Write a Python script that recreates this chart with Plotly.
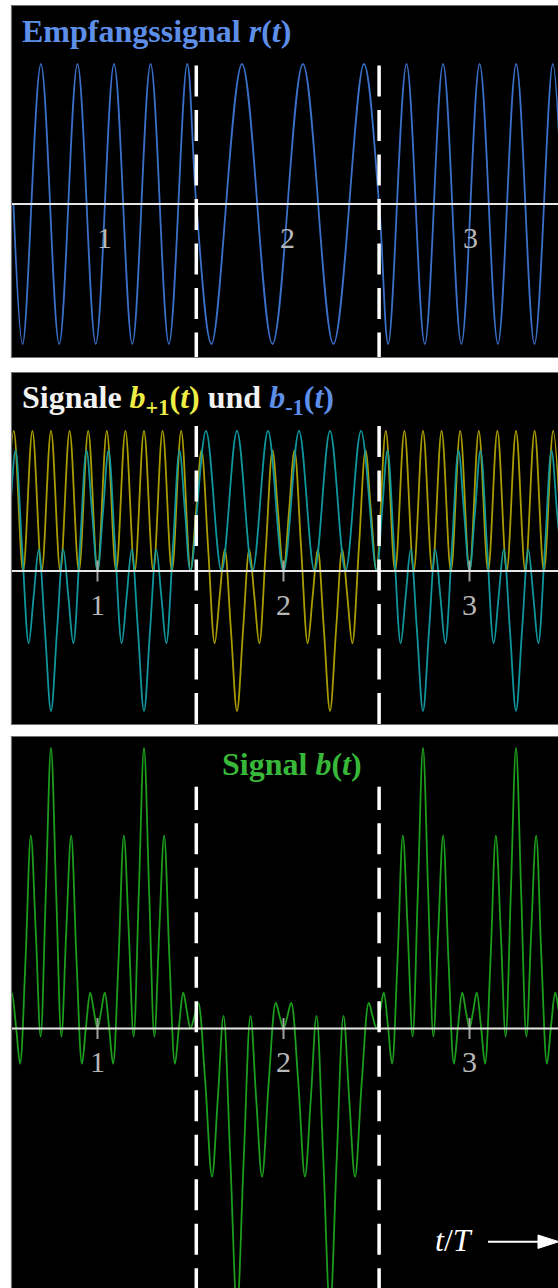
import plotly.graph_objects as go

W, H = 558, 1288

# ---------------- data (t/T and normalised amplitude) -------------
SYMBOL_BOUNDS = [1.5, 2.5]          # dashed symbol boundaries (t/T of the top panel)
TICK_POS = [1, 2, 3]
TICK_TEXT = ["1", "2", "3"]

# r(t): extrema / zero points
R_T = [0.5, 0.55, 0.65, 0.75, 0.85, 0.95, 1.05, 1.15, 1.25, 1.35, 1.45, 1.5,
       1.5833, 1.75, 1.9167, 2.0833, 2.25, 2.4167, 2.5,
       2.55, 2.65, 2.75, 2.85, 2.95, 3.05, 3.15, 3.25, 3.35, 3.45, 3.5]
R_V = [0, -1, 1, -1, 1, -1, 1, -1, 1, -1, 1, 0,
       -1, 1, -1, 1, -1, 1, 0,
       -1, 1, -1, 1, -1, 1, -1, 1, -1, 1, 0]

# b_{+1}(t)
BP_T = [0.5, 0.55, 0.6, 0.65, 0.7, 0.75, 0.8, 0.85, 0.9, 0.95, 1.0,
        1.05, 1.1, 1.15, 1.2, 1.25, 1.3, 1.35, 1.4, 1.45, 1.5,
        1.5296, 1.5591, 1.5946, 1.63, 1.657, 1.684, 1.717, 1.75, 1.783, 1.816, 1.843,
        1.87, 1.9054, 1.9409, 1.9704, 2.0,
        2.0296, 2.0591, 2.0946, 2.13, 2.157, 2.184, 2.217, 2.25, 2.283, 2.316, 2.343,
        2.37, 2.4054, 2.4409, 2.4704, 2.5,
        2.55, 2.6, 2.65, 2.7, 2.75, 2.8, 2.85, 2.9, 2.95, 3.0,
        3.05, 3.1, 3.15, 3.2, 3.25, 3.3, 3.35, 3.4, 3.45, 3.5]
BP_V = [0, 1, 0, 1, 0, 1, 0, 1, 0, 1, 0,
        1, 0, 1, 0, 1, 0, 1, 0, 1, 0,
        0.423, 0.861, 0.167, -0.516, -0.177, 0.155, -0.414, -1.0, -0.414, 0.155, -0.177,
        -0.516, 0.167, 0.861, 0.423, 0,
        0.423, 0.861, 0.167, -0.516, -0.177, 0.155, -0.414, -1.0, -0.414, 0.155, -0.177,
        -0.516, 0.167, 0.861, 0.423, 0,
        1, 0, 1, 0, 1, 0, 1, 0, 1, 0,
        1, 0, 1, 0, 1, 0, 1, 0, 1, 0]

# b_{-1}(t)
BM_T = [0.5, 0.5296, 0.5591, 0.5946, 0.63, 0.657, 0.684, 0.717, 0.75, 0.783, 0.816, 0.843,
        0.87, 0.9054, 0.9409, 0.9704, 1.0,
        1.0296, 1.0591, 1.0946, 1.13, 1.157, 1.184, 1.217, 1.25, 1.283, 1.316, 1.343,
        1.37, 1.4054, 1.4409, 1.4704, 1.5,
        1.5833, 1.6667, 1.75, 1.8333, 1.9167, 2.0, 2.0833, 2.1667, 2.25, 2.3333, 2.4167, 2.5,
        2.5296, 2.5591, 2.5946, 2.63, 2.657, 2.684, 2.717, 2.75, 2.783, 2.816, 2.843,
        2.87, 2.9054, 2.9409, 2.9704, 3.0,
        3.0296, 3.0591, 3.0946, 3.13, 3.157, 3.184, 3.217, 3.25, 3.283, 3.316, 3.343,
        3.37, 3.4054, 3.4409, 3.4704, 3.5]
BM_V = [0, 0.423, 0.861, 0.167, -0.516, -0.177, 0.155, -0.414, -1.0, -0.414, 0.155, -0.177,
        -0.516, 0.167, 0.861, 0.423, 0,
        0.423, 0.861, 0.167, -0.516, -0.177, 0.155, -0.414, -1.0, -0.414, 0.155, -0.177,
        -0.516, 0.167, 0.861, 0.423, 0,
        1, 0, 1, 0, 1, 0, 1, 0, 1, 0, 1, 0,
        0.423, 0.861, 0.167, -0.516, -0.177, 0.155, -0.414, -1.0, -0.414, 0.155, -0.177,
        -0.516, 0.167, 0.861, 0.423, 0,
        0.423, 0.861, 0.167, -0.516, -0.177, 0.155, -0.414, -1.0, -0.414, 0.155, -0.177,
        -0.516, 0.167, 0.861, 0.423, 0]

# b(t)
B_T = [0.5, 0.5195, 0.539, 0.5613, 0.5836, 0.6126, 0.6416, 0.6679, 0.6942, 0.7221, 0.75,
       0.7779, 0.8058, 0.8321, 0.8584, 0.8874, 0.9164, 0.9387, 0.961, 0.9805, 1.0,
       1.0195, 1.039, 1.0613, 1.0836, 1.1126, 1.1416, 1.1679, 1.1942, 1.2221, 1.25,
       1.2779, 1.3058, 1.3321, 1.3584, 1.3874, 1.4164, 1.4387, 1.461, 1.4805, 1.5,
       1.5207, 1.5414, 1.5784, 1.6154, 1.6465, 1.6775, 1.7138, 1.75,
       1.7862, 1.8225, 1.8535, 1.8846, 1.9216, 1.9586, 1.9793, 2.0,
       2.0207, 2.0414, 2.0784, 2.1154, 2.1465, 2.1775, 2.2138, 2.25,
       2.2862, 2.3225, 2.3535, 2.3846, 2.4216, 2.4586, 2.4793, 2.5,
       2.5195, 2.539, 2.5613, 2.5836, 2.6126, 2.6416, 2.6679, 2.6942, 2.7221, 2.75,
       2.7779, 2.8058, 2.8321, 2.8584, 2.8874, 2.9164, 2.9387, 2.961, 2.9805, 3.0,
       3.0195, 3.039, 3.0613, 3.0836, 3.1126, 3.1416, 3.1679, 3.1942, 3.2221, 3.25,
       3.2779, 3.3058, 3.3321, 3.3584, 3.3874, 3.4164, 3.4387, 3.461, 3.4805, 3.5]
B_V = [0, 0.124, 0.255, 0.022, -0.25, 0.477, 1.375, 0.696, -0.057, 0.9625, 2.0,
       0.9625, -0.057, 0.696, 1.375, 0.477, -0.25, 0.022, 0.255, 0.124, 0,
       0.124, 0.255, 0.022, -0.25, 0.477, 1.375, 0.696, -0.057, 0.9625, 2.0,
       0.9625, -0.057, 0.696, 1.375, 0.477, -0.25, 0.022, 0.255, 0.124, 0,
       0.086, 0.183, -0.364, -1.056, -0.507, 0.09, -0.929, -2.0,
       -0.929, 0.09, -0.507, -1.056, -0.364, 0.183, 0.086, 0,
       0.086, 0.183, -0.364, -1.056, -0.507, 0.09, -0.929, -2.0,
       -0.929, 0.09, -0.507, -1.056, -0.364, 0.183, 0.086, 0,
       0.124, 0.255, 0.022, -0.25, 0.477, 1.375, 0.696, -0.057, 0.9625, 2.0,
       0.9625, -0.057, 0.696, 1.375, 0.477, -0.25, 0.022, 0.255, 0.124, 0,
       0.124, 0.255, 0.022, -0.25, 0.477, 1.375, 0.696, -0.057, 0.9625, 2.0,
       0.9625, -0.057, 0.696, 1.375, 0.477, -0.25, 0.022, 0.255, 0.124, 0]

# ---------------- styling ----------------
BLUE_LINE = "#3a70c8"
YELLOW_LINE = "#a99c00"
CYAN_LINE = "#119ea6"
GREEN_LINE = "#1c9e1c"
BLUE_TXT = "#5d8fe8"
YELLOW_TXT = "#eded45"
GREEN_TXT = "#38b838"
WHITE_TXT = "#f2f2f2"
GRAY_TXT = "#b8b8b8"
SERIF = "Liberation Serif, Times New Roman, serif"

# panel pixel boxes (top, bottom) and axis ranges
PANELS = [(6, 357), (373, 724), (737, 1288)]
LEFT = 12
X_RANGES = [[0.4918, 3.4787], [0.5403, 3.4758], [0.5403, 3.4758]]
Y_RANGES = [[-153 / 140, 198 / 140], [-153 / 140, 198 / 140], [-259 / 140, 291 / 140]]


def py(p):
    return 1 - p / H


def px(p):
    return p / W


fig = go.Figure()

fig.add_trace(go.Scatter(x=R_T, y=R_V, mode="lines", line=dict(color=BLUE_LINE, width=1.8, shape="spline"),
                         xaxis="x", yaxis="y", showlegend=False, hoverinfo="skip"))
fig.add_trace(go.Scatter(x=BP_T, y=BP_V, mode="lines", line=dict(color=YELLOW_LINE, width=1.8, shape="spline"),
                         xaxis="x2", yaxis="y2", showlegend=False, hoverinfo="skip"))
fig.add_trace(go.Scatter(x=BM_T, y=BM_V, mode="lines", line=dict(color=CYAN_LINE, width=1.8, shape="spline"),
                         xaxis="x2", yaxis="y2", showlegend=False, hoverinfo="skip", opacity=0.95))
fig.add_trace(go.Scatter(x=B_T, y=B_V, mode="lines", line=dict(color=GREEN_LINE, width=1.8, shape="spline"),
                         xaxis="x3", yaxis="y3", showlegend=False, hoverinfo="skip"))

# small tick marks on the zero line (panels 2 and 3)
for xa, ya in [("x2", "y2"), ("x3", "y3")]:
    fig.add_trace(go.Scatter(x=TICK_POS, y=[0] * len(TICK_POS), mode="markers",
                             marker=dict(symbol="line-ns", size=15, line=dict(color="#a0a0a0", width=2)),
                             xaxis=xa, yaxis=ya, showlegend=False, hoverinfo="skip"))

layout = dict(width=W, height=H, margin=dict(l=0, r=0, t=0, b=0),
              paper_bgcolor="white", plot_bgcolor="black", showlegend=False)
axis_common = dict(showgrid=False, zeroline=False, showticklabels=False, showline=False, ticks="",
                   fixedrange=True)
shapes = []
annotations = []
for i, (top, bot) in enumerate(PANELS):
    sfx = "" if i == 0 else str(i + 1)
    layout["xaxis" + sfx] = dict(domain=[LEFT / W, 1], range=X_RANGES[i], anchor="y" + sfx, **axis_common)
    layout["yaxis" + sfx] = dict(domain=[max(0, py(bot)), py(top)], range=Y_RANGES[i], anchor="x" + sfx,
                                 **axis_common)
    # border
    shapes.append(dict(type="rect", xref="paper", yref="paper", x0=px(LEFT - 0.5), x1=1.02,
                       y0=py(bot + 0.5), y1=py(top - 0.5), line=dict(color="#707070", width=1.2),
                       layer="above"))
    # zero line
    shapes.append(dict(type="line", xref="x" + sfx + " domain", yref="y" + sfx, x0=0, x1=1, y0=0, y1=0,
                       line=dict(color="#e6e6e6", width=2), layer="above"))
    # tick labels
    for xv, tt in zip(TICK_POS, TICK_TEXT):
        annotations.append(dict(x=xv, y=0, xref="x" + sfx, yref="y" + sfx, text=tt, showarrow=False,
                                yshift=-33, xanchor="center", yanchor="middle",
                                font=dict(family=SERIF, size=30, color=GRAY_TXT)))

# dashed symbol boundaries (same pixel column in all three panels)
DASH_SEGMENTS = [(65.5, 357), (426, 724), (823.3, 1288)]
for xb in SYMBOL_BOUNDS:
    for (y_a, y_b) in DASH_SEGMENTS:
        shapes.append(dict(type="line", xref="x", yref="paper", x0=xb, x1=xb, y0=py(y_a), y1=py(y_b),
                           line=dict(color="white", width=3.5, dash="31px,13.5px"), layer="above"))
    shapes.append(dict(type="line", xref="x", yref="paper", x0=xb, x1=xb, y0=py(786.7), y1=py(810),
                       line=dict(color="white", width=3.5), layer="above"))

# titles
annotations.append(dict(xref="paper", yref="paper", x=px(20), y=py(11), xanchor="left", yanchor="top",
                        showarrow=False,
                        text="<b>Empfangssignal <i>r</i>(<i>t</i>)</b>",
                        font=dict(family=SERIF, size=32, color=BLUE_TXT)))
annotations.append(dict(xref="paper", yref="paper", x=px(20), y=py(377), xanchor="left", yanchor="top",
                        showarrow=False,
                        text=(f"<b>Signale <span style='color:{YELLOW_TXT}'><i>b</i><sub>+1</sub>(<i>t</i>)</span>"
                              f" und <span style='color:{BLUE_TXT}'><i>b</i><sub>-1</sub>(<i>t</i>)</span></b>"),
                        font=dict(family=SERIF, size=32, color=WHITE_TXT)))
annotations.append(dict(xref="paper", yref="paper", x=px(220), y=py(744), xanchor="left", yanchor="top",
                        showarrow=False,
                        text="<b>Signal <i>b</i>(<i>t</i>)</b>",
                        font=dict(family=SERIF, size=32, color=GREEN_TXT)))
# axis label with arrow
annotations.append(dict(xref="paper", yref="paper", x=px(454), y=py(1240), xanchor="center", yanchor="middle",
                        showarrow=False, text="<i>t</i>/<i>T</i>",
                        font=dict(family=SERIF, size=32, color="white")))
shapes.append(dict(type="line", xref="paper", yref="paper", x0=px(488), x1=px(542), y0=py(1241.7), y1=py(1241.7),
                   line=dict(color="white", width=2), layer="above"))
shapes.append(dict(type="path", xref="paper", yref="paper",
                   path=(f"M {px(538)} {py(1235)} L {px(559)} {py(1241.7)} "
                         f"L {px(538)} {py(1248.4)} Z"),
                   fillcolor="white", line=dict(color="white", width=1), layer="above"))

layout["shapes"] = shapes
layout["annotations"] = annotations
fig.update_layout(**layout)

fig.write_html("out.html", config={"displayModeBar": False},
               post_script="document.body.style.margin='0';document.body.style.overflow='hidden';")
